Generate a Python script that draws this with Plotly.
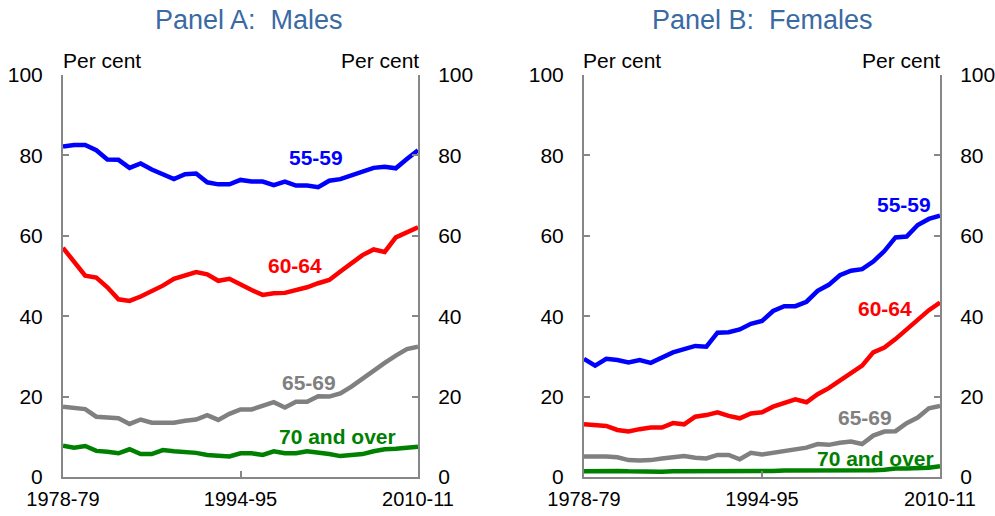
import plotly.graph_objects as go

W, H = 995, 516

years = list(range(33))
tick_vals = [0, 16, 32]
tick_text = ['1978-79', '1994-95', '2010-11']

# Panel A: males
male_55_59 = [82.2, 82.6, 82.6, 81.3, 79.0, 78.9, 76.9, 78.0, 76.5, 75.3, 74.1,
              75.3, 75.5, 73.3, 72.8, 72.8, 73.9, 73.5, 73.5, 72.6, 73.5, 72.5,
              72.5, 72.1, 73.7, 74.1, 75.0, 75.9, 76.9, 77.2, 76.8, 79.1, 81.3]
male_60_64 = [57.0, 53.7, 50.1, 49.6, 47.2, 44.2, 43.8, 44.9, 46.1, 47.6, 49.3,
              50.2, 51.0, 50.4, 48.8, 49.3, 47.8, 46.5, 45.3, 45.7, 45.8, 46.5,
              47.2, 48.2, 49.0, 51.1, 53.2, 55.2, 56.6, 56.0, 59.6, 60.8, 62.1]
male_65_69 = [17.5, 17.3, 16.9, 15.0, 14.8, 14.6, 13.2, 14.3, 13.5, 13.4, 13.5,
              14.0, 14.3, 15.4, 14.2, 15.7, 16.8, 16.8, 17.7, 18.6, 17.3, 18.7,
              18.7, 20.1, 20.0, 20.8, 22.5, 24.5, 26.6, 28.4, 30.2, 31.8, 32.4]
male_70_over = [7.8, 7.3, 7.7, 6.5, 6.3, 5.9, 6.9, 5.7, 5.7, 6.7, 6.4,
                6.2, 6.0, 5.5, 5.4, 5.1, 5.9, 5.9, 5.5, 6.4, 5.9, 5.9,
                6.4, 6.1, 5.7, 5.2, 5.4, 5.7, 6.4, 6.9, 7.0, 7.2, 7.5]

# Panel B: females
female_55_59 = [29.4, 27.7, 29.4, 29.1, 28.5, 29.1, 28.4, 29.8, 31.0, 31.8, 32.6,
                32.4, 35.9, 36.0, 36.7, 38.1, 38.8, 41.3, 42.5, 42.5, 43.6, 46.3,
                47.8, 50.2, 51.3, 51.7, 53.6, 56.2, 59.6, 59.8, 62.7, 64.2, 65.0]
female_60_64 = [13.1, 12.9, 12.7, 11.7, 11.3, 11.9, 12.3, 12.3, 13.4, 13.1, 15.0,
                15.4, 16.1, 15.2, 14.6, 15.8, 16.1, 17.5, 18.3, 19.3, 18.6, 20.6,
                22.1, 23.9, 25.8, 27.7, 31.0, 32.2, 34.3, 36.8, 39.1, 41.5, 43.4]
female_65_69 = [5.1, 5.2, 5.1, 4.9, 4.2, 4.1, 4.2, 4.6, 4.8, 5.2, 4.8,
                4.6, 5.5, 5.5, 4.4, 6.0, 5.6, 6.0, 6.5, 7.0, 7.3, 8.2,
                8.0, 8.5, 8.8, 8.2, 10.3, 11.3, 11.4, 13.4, 14.8, 17.1, 17.7]
female_70_over = [1.4, 1.5, 1.5, 1.5, 1.4, 1.3, 1.3, 1.3, 1.4, 1.4, 1.5,
                  1.4, 1.3, 1.3, 1.3, 1.3, 1.4, 1.5, 1.6, 1.6, 1.6, 1.6,
                  1.5, 1.5, 1.6, 1.6, 1.7, 1.8, 2.1, 2.1, 2.2, 2.3, 2.7]

series_names = ['55-59', '60-64', '65-69', '70 and over']
colors = ['#0000FF', '#FF0000', '#808080', '#008000']

# label positions (x index, value) for each series
male_label_pos = [(22.8, 79.6), (20.9, 52.7), (22.2, 23.4), (24.7, 10.0)]
female_label_pos = [(28.8, 67.7), (27.1, 42.0), (25.3, 14.9), (26.2, 4.7)]

AXIS_COL = '#878787'
FONT = 'Liberation Sans, Arial, sans-serif'


def px_x(p):
    return p / W


def px_y(p):
    return 1 - p / H


fig = go.Figure()

panels = [
    ('x', 'y', [male_55_59, male_60_64, male_65_69, male_70_over], male_label_pos),
    ('x2', 'y2', [female_55_59, female_60_64, female_65_69, female_70_over], female_label_pos),
]

for xr, yr, data, label_pos in panels:
    for name, vals, col in zip(series_names, data, colors):
        fig.add_trace(go.Scatter(
            x=years, y=vals, mode='lines', name=name,
            line=dict(color=col, width=4.5),
            xaxis=xr, yaxis=yr, showlegend=False, hoverinfo='skip'
        ))
    for name, (lx, ly), col in zip(series_names, label_pos, colors):
        fig.add_annotation(
            x=lx, y=ly, xref=xr, yref=yr, text=name, showarrow=False,
            xanchor='center', yanchor='middle',
            font=dict(family=FONT, size=21, color=col, weight='bold')
        )

# dummy traces so the right-hand axes get drawn
fig.add_trace(go.Scatter(x=[0], y=[0], xaxis='x', yaxis='y3', mode='markers',
                         marker=dict(opacity=0), showlegend=False, hoverinfo='skip'))
fig.add_trace(go.Scatter(x=[0], y=[0], xaxis='x2', yaxis='y4', mode='markers',
                         marker=dict(opacity=0), showlegend=False, hoverinfo='skip'))

y_dom = [px_y(477), px_y(75)]

xaxis_common = dict(
    range=[0, 32], tickvals=tick_vals, ticktext=tick_text,
    showline=True, linecolor=AXIS_COL, linewidth=2,
    ticks='inside', ticklen=6, tickwidth=2, tickcolor=AXIS_COL,
    showgrid=False, zeroline=False, ticklabelstandoff=3, automargin=False,
    tickfont=dict(family=FONT, size=20, color='black'),
)
yaxis_common = dict(
    range=[0, 100], tickvals=[0, 20, 40, 60, 80, 100],
    showline=True, linecolor=AXIS_COL, linewidth=2,
    ticks='inside', ticklen=6, tickwidth=2, tickcolor=AXIS_COL,
    showgrid=False, zeroline=False, ticklabelstandoff=14, automargin=False,
    tickfont=dict(family=FONT, size=21, color='black'),
    domain=y_dom,
)

fig.update_layout(
    width=W, height=H, autosize=False,
    margin=dict(l=0, r=0, t=0, b=0),
    plot_bgcolor='white', paper_bgcolor='white',
    xaxis=dict(domain=[px_x(63), px_x(418)], anchor='y', **xaxis_common),
    xaxis2=dict(domain=[px_x(584), px_x(940)], anchor='y2', **xaxis_common),
    yaxis=dict(anchor='x', side='left', **yaxis_common),
    yaxis2=dict(anchor='x2', side='left', **yaxis_common),
    yaxis3=dict(anchor='x', side='right', overlaying='y', **yaxis_common),
    yaxis4=dict(anchor='x2', side='right', overlaying='y2', **yaxis_common),
)

# panel titles
for cx, txt in [(249, 'Panel A:  Males'), (762, 'Panel B:  Females')]:
    fig.add_annotation(x=px_x(cx), y=px_y(20), xref='paper', yref='paper',
                       xanchor='center', yanchor='middle',
                       text=txt, showarrow=False,
                       font=dict(family=FONT, size=27, color='#3A6AA4'))

# "Per cent" unit labels
for xp, anchor in [(61, 'left'), (421, 'right'), (581, 'left'), (942, 'right')]:
    fig.add_annotation(x=px_x(xp), y=px_y(61), xref='paper', yref='paper',
                       xanchor=anchor, yanchor='middle', text='Per cent', showarrow=False,
                       font=dict(family=FONT, size=21, color='black'))

# drop the page's default body margin so the figure sits at the window corner
fig.write_html("out.html", config={'displayModeBar': False},
               post_script="document.body.style.margin='0';"
               "document.documentElement.style.overflow='hidden';")
